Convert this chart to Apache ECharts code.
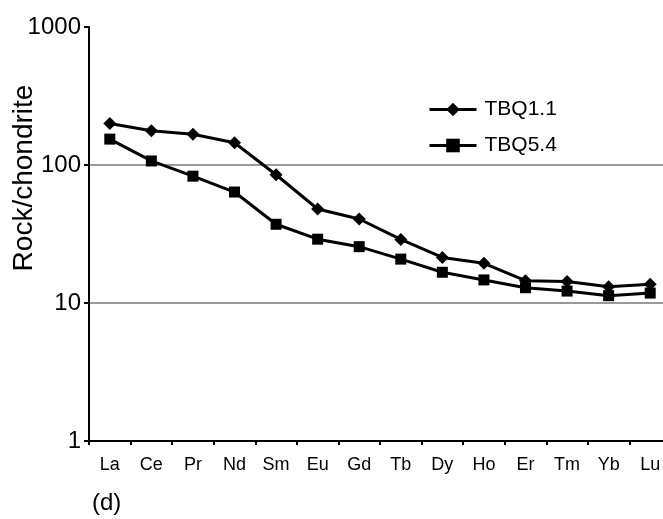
<!DOCTYPE html>
<html>
<head>
<meta charset="utf-8">
<script src="https://cdn.jsdelivr.net/npm/echarts@6/dist/echarts.min.js"></script>
<style>
    html, body { margin: 0; padding: 0; background: #fff; }
    #main { width: 663px; height: 519px; }
</style>
</head>
<body>
<div id="main"></div>
<script>
var elements = ['La', 'Ce', 'Pr', 'Nd', 'Sm', 'Eu', 'Gd', 'Tb', 'Dy', 'Ho', 'Er', 'Tm', 'Yb', 'Lu'];
var tbq11 = [200, 177, 167, 145, 85, 48, 40.6, 28.9, 21.4, 19.4, 14.5, 14.3, 13.1, 13.7];
var tbq54 = [154, 107, 83, 63.7, 37.2, 29, 25.6, 20.8, 16.7, 14.7, 12.9, 12.2, 11.3, 11.8];

(function () {
    var font = 'Liberation Sans, Arial, sans-serif';
    var chart = echarts.init(document.getElementById('main'));
    var option = {
        animation: false,
        textStyle: { fontFamily: font, color: '#000' },
        title: {
            text: '(d)',
            left: 87,
            top: 486,
            textStyle: { fontFamily: font, fontSize: 24, fontWeight: 'normal', color: '#000' }
        },
        legend: {
            orient: 'vertical',
            left: 423,
            top: 94,
            itemWidth: 47,
            itemHeight: 17,
            itemGap: 15,
            lineStyle: { width: 3, color: '#000' },
            textStyle: { fontFamily: font, fontSize: 21, color: '#000', padding: [0, 0, 0, 3] },
            data: ['TBQ1.1', 'TBQ5.4']
        },
        grid: {
            left: 89,
            top: 27,
            width: 582,
            height: 414,
            containLabel: false,
            outerBoundsMode: 'none'
        },
        xAxis: {
            type: 'category',
            data: elements,
            boundaryGap: true,
            axisLine: { show: true, lineStyle: { color: '#000', width: 2 } },
            axisTick: { show: true, length: 4, lineStyle: { color: '#000', width: 2 } },
            axisLabel: { margin: 15, fontSize: 18, color: '#000', fontFamily: font, interval: 0 },
            splitLine: { show: false }
        },
        yAxis: {
            type: 'log',
            logBase: 10,
            min: 1,
            max: 1000,
            name: 'Rock/chondrite',
            nameLocation: 'middle',
            nameRotate: 90,
            nameGap: 51,
            nameMoveOverlap: false,
            nameTextStyle: { fontFamily: font, fontSize: 28, color: '#000', padding: [0, 0, 0, 112] },
            axisLine: { show: true, lineStyle: { color: '#000', width: 2 } },
            axisTick: { show: true, length: 5, lineStyle: { color: '#000', width: 2 } },
            axisLabel: {
                margin: 8,
                fontSize: 24,
                color: '#000',
                fontFamily: font,
                formatter: function (v) { return String(v); }
            },
            splitLine: {
                show: true,
                lineStyle: { color: ['transparent', '#999', '#999', 'transparent'], width: 2 }
            }
        },
        series: [
            {
                name: 'TBQ1.1',
                type: 'line',
                data: tbq11,
                symbol: 'diamond',
                symbolSize: 13,
                itemStyle: { color: '#000' },
                lineStyle: { color: '#000', width: 3 }
            },
            {
                name: 'TBQ5.4',
                type: 'line',
                data: tbq54,
                symbol: 'rect',
                symbolSize: 11,
                itemStyle: { color: '#000' },
                lineStyle: { color: '#000', width: 3 }
            }
        ]
    };
    chart.setOption(option);
})();
</script>
</body>
</html>
